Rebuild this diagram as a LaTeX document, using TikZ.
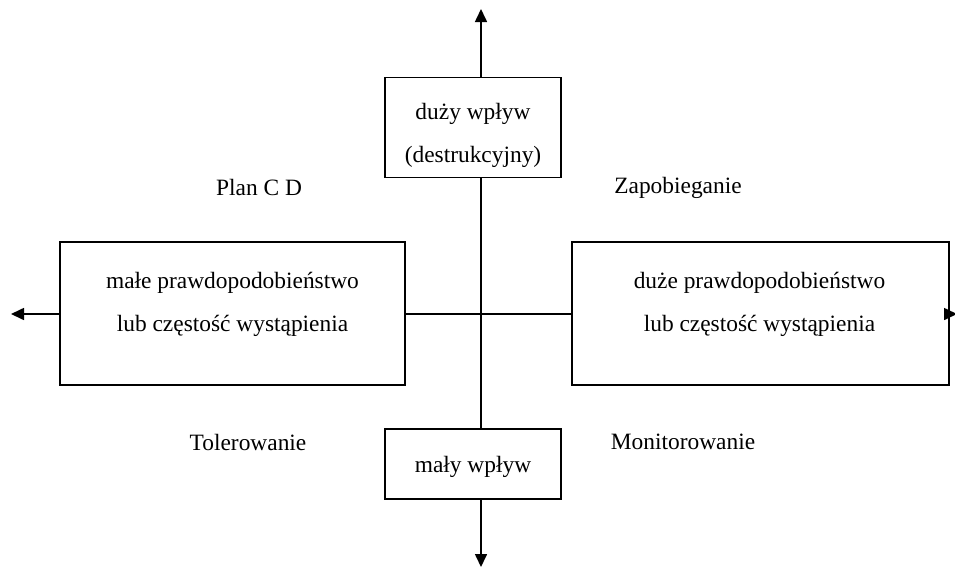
\documentclass[tikz,border=0pt]{standalone}
\usepackage{fontspec}
\setmainfont{Liberation Serif}
\usetikzlibrary{arrows.meta}
\begin{document}
\begin{tikzpicture}[x=1pt,y=-1pt,
  every node/.style={font=\fontsize{23.4}{43}\selectfont, inner sep=0pt},
  box/.style={draw, line width=1.6pt},
  txt/.style={align=center},
  conn/.style={line width=1.6pt},
  arr/.style={conn, -{Triangle[length=13pt,width=12pt]}},
  lbl/.style={}]
\useasboundingbox (0,0) rectangle (955,568);
\node[box, minimum width=176pt, minimum height=100pt] (top) at (473,127.5) {};
\node[box, minimum width=176pt, minimum height=70pt] (bot) at (473,464) {};
\node[box, minimum width=345pt, minimum height=143pt] (left) at (232.5,313.5) {};
\node[box, minimum width=377pt, minimum height=143pt] (right) at (760.5,313.5) {};
\node[txt] (toptxt) at (473,135.5) {duży wpływ\\(destrukcyjny)};
\node[txt] (bottxt) at (473,467) {mały wpływ};
\node[txt] (lefttxt) at (232.5,304.5) {małe prawdopodobieństwo\\lub częstość wystąpienia};
\node[txt] (righttxt) at (759.5,304.5) {duże prawdopodobieństwo\\lub częstość wystąpienia};
\coordinate (n) at (481,9);
\coordinate (s) at (481,567);
\coordinate (w) at (11,314);
\coordinate (e) at (957,314);
\draw[arr] (top.north -| n) -- (n);
\draw[conn] (top.south -| n) -- (bot.north -| n);
\draw[arr] (bot.south -| n) -- (s);
\draw[conn] (left.east |- w) -- (right.west |- w);
\draw[arr] (left.west |- w) -- (w);
\draw[arr] (right.east |- w) -- (e);
\node[lbl] (pcd) at (259,187) {Plan C D};
\node[lbl] (zap) at (678,188) {Zapobieganie};
\node[lbl] (tol) at (248,442) {Tolerowanie};
\node[lbl] (mon) at (683,442) {Monitorowanie};
\end{tikzpicture}
\end{document}
